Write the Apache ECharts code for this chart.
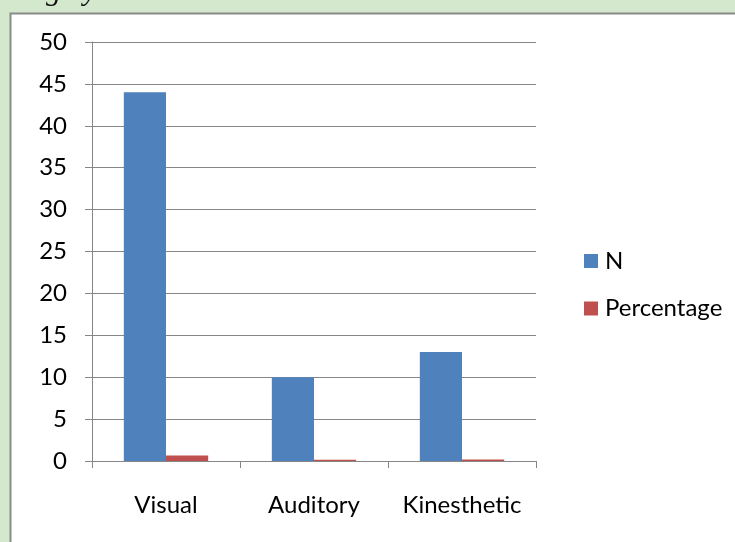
<!DOCTYPE html>
<html>
<head>
<meta charset="utf-8">
<script src="https://cdn.jsdelivr.net/npm/echarts@6/dist/echarts.min.js"></script>
<style>
html,body{margin:0;padding:0;background:#d3e8cc;}
#main{width:735px;height:542px;}
</style>
</head>
<body>
<div id="main"></div>
<script>
const categories = ['Visual', 'Auditory', 'Kinesthetic'];
const seriesNames = ['N', 'Percentage'];
const nValues = [44, 10, 13];
const percentageValues = [0.66, 0.15, 0.19];
const yTicks = { min: 0, max: 50, interval: 5 };

const chart = echarts.init(document.getElementById('main'), null, {renderer: 'canvas'});
const font = 'Lato, "Open Sans", sans-serif';
chart.setOption({
  backgroundColor: 'transparent',
  animation: false,
  graphic: [
    { type: 'rect', z: -10, silent: true,
      shape: { x: 10.5, y: 13.5, width: 740, height: 540 },
      style: { fill: '#ffffff', stroke: '#8a8a8a', lineWidth: 2 } },
    { type: 'text', z: -5, silent: true, x: 46, y: -8,
      style: { text: 'g by', font: 'italic 30px "Liberation Serif", serif', fill: '#111', verticalAlign: 'middle' } }
  ],
  grid: { left: 92, right: 199, top: 42, bottom: 81, containLabel: false },
  legend: {
    orient: 'vertical', left: 579, top: 244,
    itemWidth: 14, itemHeight: 14, itemGap: 23.5, icon: 'rect',
    textStyle: { fontFamily: font, fontSize: 24, color: '#000', lineHeight: 24, padding: [0,0,0,2] },
    data: seriesNames
  },
  xAxis: {
    type: 'category', data: categories,
    axisLine: { lineStyle: { color: '#868686', width: 1 } },
    axisTick: { show: true, length: 7, lineStyle: { color: '#868686' } },
    axisLabel: { color: '#000', fontFamily: font, fontSize: 24, margin: 32, interval: 0, hideOverlap: false }
  },
  yAxis: {
    type: 'value', min: yTicks.min, max: yTicks.max, interval: yTicks.interval,
    axisLine: { show: true, lineStyle: { color: '#868686', width: 1 } },
    axisTick: { show: true, length: 7, lineStyle: { color: '#868686' } },
    axisLabel: { color: '#000', fontFamily: font, fontSize: 24, margin: 25 },
    splitLine: { lineStyle: { color: '#868686', width: 1 } }
  },
  series: [
    { name: seriesNames[0], type: 'bar', data: nValues, itemStyle: { color: '#4f81bd' },
      barGap: '0%', barCategoryGap: '43%' },
    { name: seriesNames[1], type: 'bar', data: percentageValues, itemStyle: { color: '#c0504d' },
      barGap: '0%', barCategoryGap: '43%' }
  ]
});
</script>
</body>
</html>
